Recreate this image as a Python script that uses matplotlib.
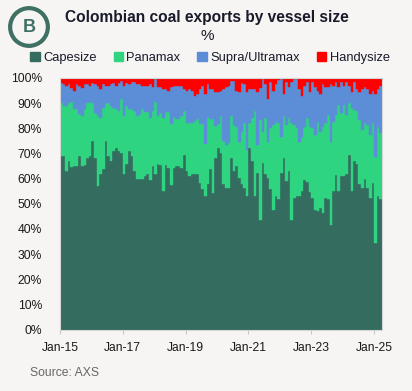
import numpy as np
import matplotlib
matplotlib.use("Agg")
import matplotlib.pyplot as plt
from matplotlib.patches import Patch, Circle

plt.rcParams['font.family'] = ['Liberation Sans', 'DejaVu Sans']

# Monthly shares (%), Jan-15 .. Mar-25
capesize = [69, 69, 63, 67, 64.5, 65, 65, 69, 65, 65.5, 68, 69, 75, 68, 57, 62, 64, 75, 69, 67,
            71, 72, 71, 70, 62, 66, 71, 69, 63, 60, 60, 60, 61, 62, 59.5, 65, 62, 66, 65.5, 55,
            65.5, 64.3, 57.5, 64.3, 65, 65, 64.3, 69.5, 63, 61, 61.7, 61.7, 61.7, 58.4, 56, 53, 57.7, 64, 54.4, 68,
            72, 70, 57.7, 56.4, 56.4, 68.3, 63, 65, 60.4, 57.7, 56.4, 53, 72.3, 67, 53, 62.4, 43.7, 66.3, 61.7, 60.4,
            55.7, 47.7, 53, 51.7, 62.4, 68.3, 59, 63, 43.7, 52.4, 53, 53, 55, 59.5, 58.5, 54.5, 52.4, 47.7, 47, 48.4,
            46.4, 52.4, 52, 41.6, 55, 61.3, 55, 61, 61, 61.7, 69.5, 55, 67, 65.7, 57.7, 56.4, 60, 56.4, 52.4, 58.4,
            34.5, 53, 51.7]
panamax = [21, 20, 26, 23, 26, 22.5, 22.5, 16.5, 20, 22, 22, 21.5, 15, 18, 28, 22, 24, 15, 21, 22,
           17, 15.5, 16, 21.5, 23, 23, 16.5, 18.5, 24, 25, 25.5, 27.5, 25.3, 24.3, 24.5, 21.9, 28.3, 19, 20.5, 29,
           20.8, 22, 24.1, 20, 18.6, 18.6, 20.7, 17.4, 19.3, 21.3, 20.6, 21.3, 21.9, 23.2, 25.6, 20.7, 26.6, 19.6, 29.2, 13,
           9.6, 15, 17.3, 17.1, 17.6, 16.4, 18.4, 15.7, 14.3, 21, 25.6, 18.4, 9.7, 17, 33.7, 11, 39.7, 12.4, 22.3, 14.1,
           24.4, 33.7, 29.7, 30.3, 14.3, 16.4, 22.4, 21, 38.3, 29, 27.1, 21.7, 21.7, 21.2, 25.5, 26.2, 27.7, 29.7, 35.7, 30.3,
           34.3, 29.6, 33.4, 33.1, 27.5, 23.9, 34.4, 25, 28.4, 23.7, 20.5, 33, 20.4, 21, 25.7, 23, 22, 25, 25, 23.6,
           34, 27.4, 26.3]
supra_ultramax = [8, 8.5, 8, 7.5, 5.5, 7.5, 10, 11.5, 11, 10, 7.5, 6.5, 8, 11.5, 12, 11.5, 9.5, 7, 7, 8.5,
                  10, 9.5, 11, 7.5, 12, 9, 10, 10.8, 11.3, 12.6, 12.1, 9.5, 10.7, 10.7, 13.6, 9.4, 9.2, 11.3, 10.3, 11.6,
                  9.3, 8.6, 14.7, 12.6, 13.3, 13.3, 11.9, 8.7, 12.6, 13.3, 12.6, 9.9, 9.9, 14, 15.3, 19.9, 13.3, 12, 12, 13.3,
                  12.7, 9.9, 20.5, 23, 23, 14.3, 17.6, 14.2, 19.6, 19.3, 15.5, 22.9, 13.6, 11.6, 8.9, 20.9, 12.6, 20.8, 13.6, 17.1,
                  18.2, 13.5, 14.9, 17.3, 22.8, 8.9, 16.9, 12.3, 16.3, 18.1, 19.4, 20.9, 16.3, 16.3, 14.5, 13.6, 18.2, 18.9, 12.3, 14.9,
                  16.9, 14.3, 10.9, 22.9, 14.4, 13.1, 6.9, 12.3, 7.5, 12.9, 6.9, 6.3, 10.9, 8.9, 10.9, 16.2, 14.3, 14.2, 16.2, 12.9,
                  25.1, 15.2, 18.9]
handysize = [2, 2.5, 3, 2.5, 4, 5, 2.5, 3, 4, 2.5, 2.5, 3, 2, 2.5, 3, 4.5, 2.5, 3, 3, 2.5,
             2, 3, 2, 1, 3, 2, 2.5, 1.7, 1.7, 2.4, 2.4, 3, 3, 3, 2.4, 3.7, 0.5, 3.7, 3.7, 4.4,
             4.4, 5.1, 3.7, 3.1, 3.1, 3.1, 3.1, 4.4, 5.1, 4.4, 5.1, 7.1, 6.5, 4.4, 3.1, 6.4, 2.4, 4.4, 4.4, 5.7,
             5.7, 5.1, 4.5, 3.5, 3, 1, 1, 5.1, 5.7, 2, 2.5, 5.7, 4.4, 4.4, 4.4, 5.7, 4, 0.5, 2.4, 8.4,
             1.7, 5.1, 2.4, 0.7, 0.5, 6.4, 1.7, 3.7, 1.7, 0.5, 0.5, 4.4, 7, 3, 1.5, 5.7, 1.7, 3.7, 5, 6.4,
             2.4, 3.7, 3.7, 2.4, 3.1, 1.7, 3.7, 1.7, 3.1, 1.7, 3.1, 5.7, 1.7, 4.4, 5.7, 4.4, 3.7, 4.4, 6.4, 5.1,
             6.4, 4.4, 3.1]

series_names = ["Capesize", "Panamax", "Supra/Ultramax", "Handysize"]
series_colors = ["#346C60", "#2ED47F", "#5B8ED6", "#FF0000"]
tick_labels = ["Jan-15", "Jan-17", "Jan-19", "Jan-21", "Jan-23", "Jan-25"]

data = [np.array(capesize), np.array(panamax), np.array(supra_ultramax), np.array(handysize)]
n = len(capesize)
x = np.arange(n)

W, H = 412, 391
bg = "#F6F5F3"
fig = plt.figure(figsize=(W / 100, H / 100), dpi=100, facecolor=bg)
ax = fig.add_axes([60 / W, 1 - 329.5 / H, 322 / W, 251.5 / H])
ax.set_facecolor("white")

bottom = np.zeros(n)
for vals, name, col in zip(data, series_names, series_colors):
    ax.bar(x, vals, bottom=bottom, width=1.0, color=col, edgecolor=col, linewidth=0.3, label=name)
    bottom = bottom + vals

ax.set_xlim(-0.5, n - 0.5)
ax.set_ylim(0, 100)
ax.set_yticks(np.arange(0, 101, 10))
ax.set_yticklabels([f"{v}%" for v in range(0, 101, 10)])
ax.set_xticks(np.arange(0, n, 24) - 0.5)
ax.set_xticklabels(tick_labels)
ax.tick_params(axis='y', length=0, pad=13, labelsize=8.7, labelcolor="#1a1a1a")
ax.tick_params(axis='x', length=3, color="#C8C8C8", pad=6, labelsize=8.7, labelcolor="#1a1a1a")
for s in ax.spines.values():
    s.set_color("#D5D5D5")
    s.set_linewidth(0.8)

# Title, unit
fig.text(207 / W, 1 - 17.5 / H, "Colombian coal exports by vessel size", ha='center', va='center',
         fontsize=11.2, fontweight='bold', color="#1a1a2a")
fig.text(207 / W, 1 - 35.5 / H, "%", ha='center', va='center', fontsize=11, color="#1a1a2a")

# Legend
handles = [Patch(facecolor=c, edgecolor=c) for c in series_colors]
fig.legend(handles, series_names, loc='center', bbox_to_anchor=(210 / W, 1 - 58 / H), ncol=4,
           frameon=False, handlelength=0.75, handleheight=0.75, handletextpad=0.25,
           columnspacing=1.3, fontsize=9.3, labelcolor="#1a1a2a")

# Source
fig.text(30 / W, 1 - 373 / H, "Source: AXS", ha='left', va='center', fontsize=8.7, color="#666666")

# Logo
lax = fig.add_axes([6 / W, 1 - 50 / H, 46 / W, 46 / H])
lax.set_xlim(-1, 1)
lax.set_ylim(-1, 1)
lax.set_aspect('equal')
lax.axis('off')
lax.add_patch(Circle((0, 0), 0.82, fill=False, edgecolor="#3E7064", linewidth=3.0))
lax.text(0, -0.02, "B", ha='center', va='center', fontsize=13, fontweight='bold', color="#3E7064")

fig.savefig("out.png", dpi=100, facecolor=bg)
